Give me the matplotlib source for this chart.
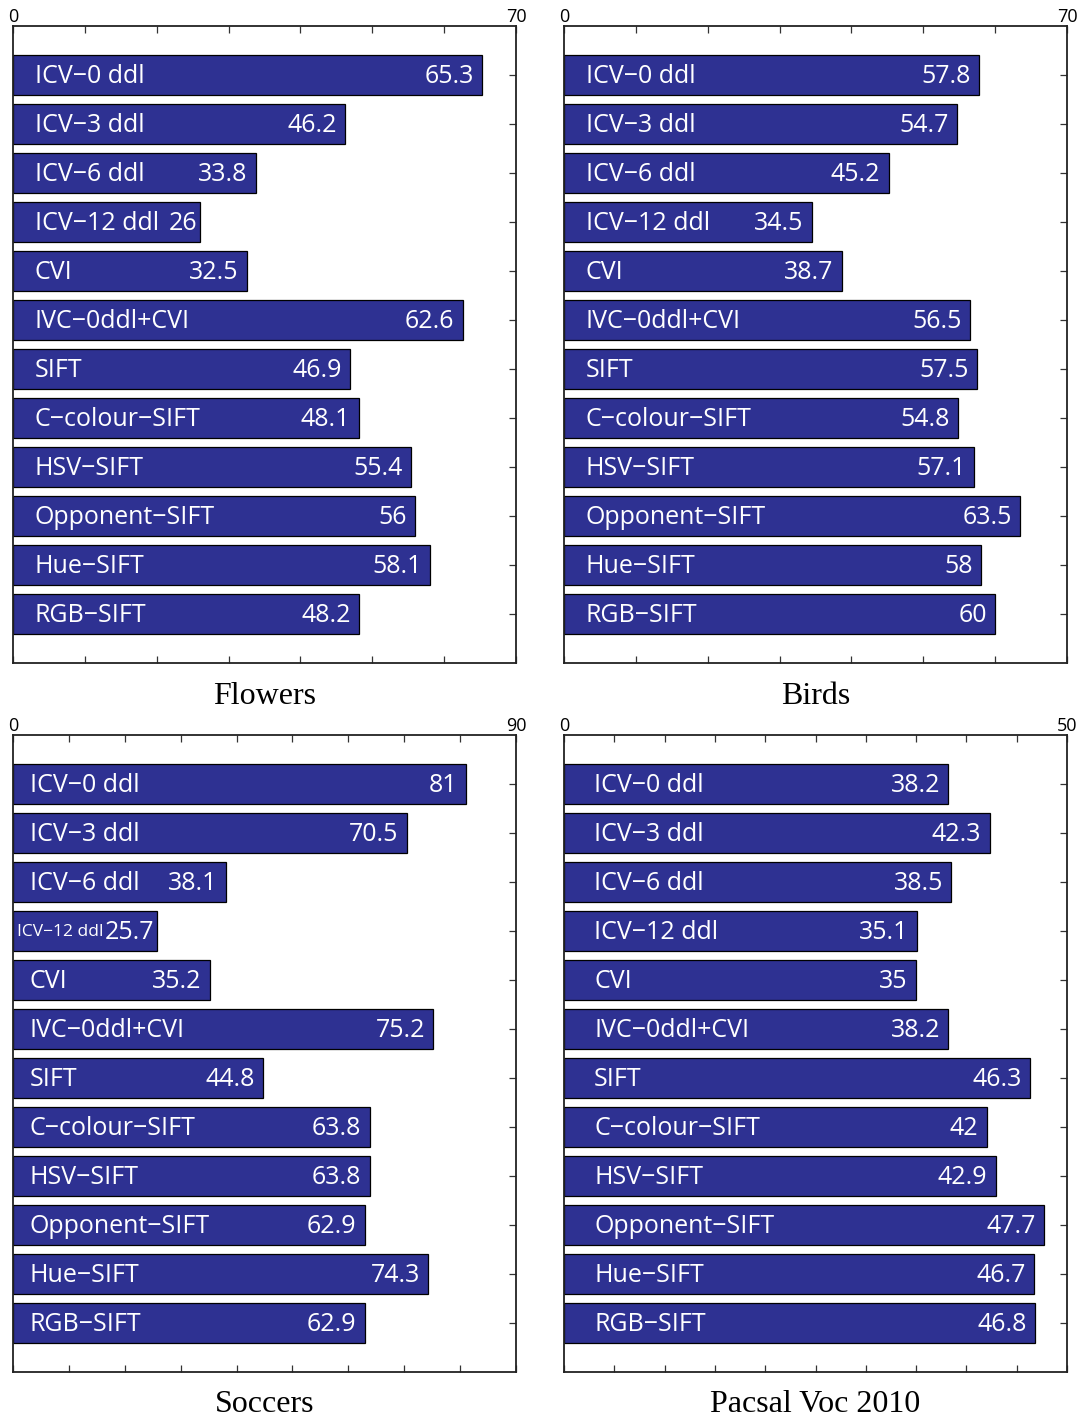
import matplotlib
matplotlib.use("Agg")
import matplotlib.pyplot as plt

methods = ["ICV\u22120 ddl", "ICV\u22123 ddl", "ICV\u22126 ddl", "ICV\u221212 ddl", "CVI",
           "IVC\u22120ddl+CVI", "SIFT", "C\u2212colour\u2212SIFT", "HSV\u2212SIFT",
           "Opponent\u2212SIFT", "Hue\u2212SIFT", "RGB\u2212SIFT"]

flowers = [65.3, 46.2, 33.8, 26, 32.5, 62.6, 46.9, 48.1, 55.4, 56, 58.1, 48.2]
birds = [57.8, 54.7, 45.2, 34.5, 38.7, 56.5, 57.5, 54.8, 57.1, 63.5, 58, 60]
soccers = [81, 70.5, 38.1, 25.7, 35.2, 75.2, 44.8, 63.8, 63.8, 62.9, 74.3, 62.9]
pascal = [38.2, 42.3, 38.5, 35.1, 35, 38.2, 46.3, 42, 42.9, 47.7, 46.7, 46.8]

titles = ["Flowers", "Birds", "Soccers", "Pacsal Voc 2010"]
xmax = [70, 70, 90, 50]
xstep = [10, 10, 10, 5]

BAR = "#2e3192"
SANS = ["Open Sans", "DejaVu Sans"]
LABEL_SIZE = 18

# (panel, row) pairs whose bar is too short for the usual layout
CRAMPED = {(0, 3), (2, 3)}

fig = plt.figure(figsize=(10.82, 14.17), dpi=100)
W, H = 1082, 1417
boxes = [(13, 26), (564, 26), (13, 735), (564, 735)]
aw, ah = 503, 637

for k, (vals, title, xm, xs) in enumerate(zip([flowers, birds, soccers, pascal], titles, xmax, xstep)):
    x0, y0 = boxes[k]
    ax = fig.add_axes([x0 / W, 1 - (y0 + ah) / H, aw / W, ah / H])
    pos = list(range(1, len(vals) + 1))
    ax.barh(pos, vals, height=0.8, color=BAR, edgecolor="black", linewidth=0.9, zorder=2)
    ax.set_xlim(0, xm)
    ax.set_ylim(len(vals) + 1, 0)
    for i, (p, v, name) in enumerate(zip(pos, vals, methods)):
        cramped = (k, i) in CRAMPED
        if k == 2 and cramped:
            # squeeze the name into the short bar
            ax.text(0.8, p + 0.03, name, color="white", va="center", ha="left", zorder=3,
                    fontsize=12.5, family=SANS)
        else:
            ax.text(3, p + 0.03, name, color="white", va="center", ha="left",
                    fontsize=LABEL_SIZE, family=SANS, zorder=3)
        ax.annotate(f"{v:g}", (v, p + 0.03), xytext=(-2 if cramped else -6, 0),
                    textcoords="offset points", color="white", va="center", ha="right",
                    fontsize=LABEL_SIZE, family=SANS, zorder=3)
    ticks = [i * xs for i in range(int(xm / xs) + 1)]
    ax.set_xticks(ticks)
    ax.set_xticklabels([str(t) if t in (0, xm) else "" for t in ticks], family=SANS, fontsize=13)
    ax.xaxis.set_ticks_position("both")
    ax.tick_params(axis="x", which="both", direction="in", length=5, width=0.9, color="#333333",
                   labeltop=True, labelbottom=False, pad=0)
    ax.set_yticks(pos)
    ax.set_yticklabels([])
    ax.tick_params(axis="y", direction="in", length=5, width=0.9, color="#333333", left=False, right=True)
    for s in ax.spines.values():
        s.set_linewidth(1.3)
        s.set_color("#222222")
        s.set_zorder(4)
    cx = (x0 + aw / 2) / W
    fig.text(cx, 1 - (y0 + ah + 33) / H, title, ha="center", va="center",
             family=["Liberation Serif", "DejaVu Serif"], fontsize=23)

fig.savefig("out.png", dpi=100)
